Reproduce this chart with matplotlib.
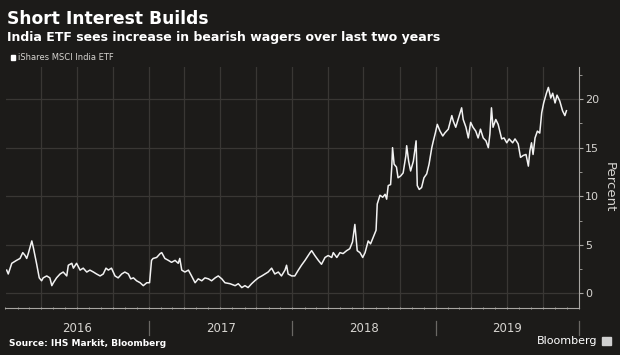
import numpy as np
import pandas as pd
import matplotlib.pyplot as plt
import matplotlib.dates as mdates
from matplotlib.patches import Rectangle

# short interest in iShares MSCI India ETF, %
dates_2016 = ["2016-01-04", "2016-01-08", "2016-01-17", "2016-01-29", "2016-02-07", "2016-02-14",
              "2016-02-20", "2016-02-24", "2016-02-28", "2016-03-08", "2016-03-12", "2016-03-20",
              "2016-03-27", "2016-04-02", "2016-04-06", "2016-04-15", "2016-04-23", "2016-04-28",
              "2016-05-02", "2016-05-10", "2016-05-19", "2016-05-27", "2016-06-05", "2016-06-09",
              "2016-06-18", "2016-06-22", "2016-06-30", "2016-07-09", "2016-07-17", "2016-07-26",
              "2016-08-03", "2016-08-12", "2016-08-20", "2016-08-29", "2016-09-06", "2016-09-13",
              "2016-09-19", "2016-09-27", "2016-10-06", "2016-10-14", "2016-10-23", "2016-10-31",
              "2016-11-09", "2016-11-15", "2016-11-22", "2016-11-30", "2016-12-09", "2016-12-17",
              "2016-12-26"]
si_2016 = [2.4, 2.0, 3.1, 3.4, 3.6, 4.2,
           3.9, 3.6, 4.1, 5.4, 4.7, 3.1,
           1.6, 1.3, 1.6, 1.8, 1.6, 0.8,
           1.1, 1.6, 2.0, 2.2, 1.8, 2.9,
           3.1, 2.6, 3.1, 2.4, 2.6, 2.2,
           2.4, 2.2, 2.0, 1.8, 2.0, 2.6,
           2.4, 2.6, 1.8, 1.6, 2.0, 2.2,
           2.0, 1.5, 1.6, 1.3, 1.1, 0.8,
           1.1]

dates_2017 = ["2017-01-02", "2017-01-07", "2017-01-11", "2017-01-20", "2017-01-29", "2017-02-02",
              "2017-02-10", "2017-02-19", "2017-02-27", "2017-03-08", "2017-03-16", "2017-03-20",
              "2017-03-25", "2017-04-02", "2017-04-11", "2017-04-19", "2017-04-28", "2017-05-06",
              "2017-05-15", "2017-05-23", "2017-06-01", "2017-06-09", "2017-06-18", "2017-06-26",
              "2017-07-05", "2017-07-13", "2017-07-26", "2017-08-08", "2017-08-16", "2017-08-25",
              "2017-09-02", "2017-09-10", "2017-09-19", "2017-09-27", "2017-10-06", "2017-10-15",
              "2017-10-23", "2017-10-31", "2017-11-09", "2017-11-17", "2017-11-26", "2017-12-04",
              "2017-12-13", "2017-12-17", "2017-12-21", "2017-12-30"]
si_2017 = [1.1, 3.4, 3.6, 3.7, 4.1, 4.2,
           3.6, 3.4, 3.2, 3.4, 3.1, 3.6,
           2.4, 2.2, 2.4, 1.8, 1.1, 1.5,
           1.3, 1.6, 1.5, 1.3, 1.6, 1.8,
           1.5, 1.1, 1.0, 0.8, 1.0, 0.6,
           0.8, 0.6, 1.0, 1.3, 1.6, 1.8,
           2.0, 2.2, 2.6, 2.0, 2.2, 1.8,
           2.4, 2.9, 2.0, 1.8]

dates_2018 = ["2018-01-07", "2018-01-16", "2018-01-24", "2018-02-02", "2018-02-10", "2018-02-15",
              "2018-02-19", "2018-02-27", "2018-03-08", "2018-03-16", "2018-03-25", "2018-04-02",
              "2018-04-11", "2018-04-15", "2018-04-24", "2018-05-02", "2018-05-10", "2018-05-19",
              "2018-05-27", "2018-06-03", "2018-06-09", "2018-06-15", "2018-06-22", "2018-06-29",
              "2018-07-05", "2018-07-13", "2018-07-19", "2018-07-26", "2018-08-02", "2018-08-05",
              "2018-08-12", "2018-08-19", "2018-08-25", "2018-08-29", "2018-09-02", "2018-09-08",
              "2018-09-11", "2018-09-13", "2018-09-17", "2018-09-23", "2018-09-27", "2018-10-04",
              "2018-10-10", "2018-10-17", "2018-10-19", "2018-10-24", "2018-10-29", "2018-11-05",
              "2018-11-12", "2018-11-15", "2018-11-20", "2018-11-26", "2018-12-02", "2018-12-09",
              "2018-12-15", "2018-12-22", "2018-12-26", "2018-12-31"]
si_2018 = [1.8, 2.4, 2.9, 3.4, 3.9, 4.2,
           4.4, 3.9, 3.4, 3.0, 3.7, 3.9,
           3.7, 4.2, 3.7, 4.2, 4.1, 4.4,
           4.6, 5.3, 7.1, 4.4, 4.2, 3.7,
           4.2, 5.4, 5.1, 5.8, 6.5, 9.2,
           10.1, 9.9, 10.2, 9.7, 11.1, 11.2,
           13.0, 15.0, 13.3, 13.0, 11.9, 12.1,
           12.4, 14.2, 15.2, 13.6, 12.6, 13.6,
           15.7, 11.1, 10.7, 10.9, 11.9, 12.3,
           13.3, 15.0, 15.7, 16.5]

dates_2019 = ["2019-01-05", "2019-01-12", "2019-01-19", "2019-01-24", "2019-02-02", "2019-02-11",
              "2019-02-15", "2019-02-21", "2019-02-27", "2019-03-08", "2019-03-12", "2019-03-19",
              "2019-03-25", "2019-03-31", "2019-04-06", "2019-04-13", "2019-04-19", "2019-04-25",
              "2019-05-02", "2019-05-09", "2019-05-15", "2019-05-19", "2019-05-23", "2019-05-27",
              "2019-06-03", "2019-06-09", "2019-06-18", "2019-06-24", "2019-07-01", "2019-07-07",
              "2019-07-16", "2019-07-22", "2019-07-30", "2019-08-05", "2019-08-12", "2019-08-19",
              "2019-08-25", "2019-08-29", "2019-09-02", "2019-09-06", "2019-09-11", "2019-09-17",
              "2019-09-23", "2019-09-28", "2019-10-03", "2019-10-10", "2019-10-15", "2019-10-21",
              "2019-10-26", "2019-11-01", "2019-11-06", "2019-11-13", "2019-11-20", "2019-11-26",
              "2019-11-30"]
si_2019 = [17.4, 16.7, 16.2, 16.5, 16.9, 18.3,
           17.7, 17.1, 17.9, 19.1, 17.9, 17.1,
           16.0, 17.6, 17.1, 16.7, 16.0, 16.9,
           16.0, 15.7, 15.0, 16.4, 19.1, 17.1,
           17.9, 17.4, 15.9, 16.0, 15.5, 15.9,
           15.5, 15.9, 15.4, 14.0, 14.2, 14.3,
           13.1, 14.7, 15.5, 14.3, 16.0, 16.7,
           16.5, 18.6, 19.6, 20.6, 21.2, 20.1,
           20.6, 19.6, 20.4, 19.8, 18.8, 18.3,
           18.8]

years = [2016, 2017, 2018, 2019]
y_ticks = [0, 5, 10, 15, 20]

dates = pd.to_datetime(dates_2016 + dates_2017 + dates_2018 + dates_2019)
si = np.array(si_2016 + si_2017 + si_2018 + si_2019)

bg = "#1c1b19"
grid_c = "#393734"
axis_c = "#a8a6a2"
text_c = "#d6d4d0"

fig = plt.figure(figsize=(6.2, 3.55), dpi=100, facecolor=bg)
ax = fig.add_axes([5.5 / 620, 47 / 355, (579 - 5.5) / 620, 241 / 355], facecolor=bg)

ax.plot(dates, si, color="#f2f2f2", lw=1.1, zorder=3)

ax.set_xlim(pd.Timestamp("2016-01-01"), pd.Timestamp("2020-01-01"))
ax.set_ylim(-1.5, 23.3)

# quarterly vertical grid
for q in pd.date_range("2016-04-01", "2019-12-31", freq="QS"):
    ax.axvline(q, color=grid_c, lw=0.9, zorder=1)
ax.set_yticks(y_ticks)
ax.set_yticks(np.arange(2.5, 23, 5), minor=True)
ax.yaxis.grid(True, which="major", color=grid_c, lw=0.9, zorder=1)

ax.yaxis.tick_right()
ax.yaxis.set_label_position("right")
ax.tick_params(axis="y", which="major", colors=axis_c, labelcolor=text_c, labelsize=8,
               length=3, width=0.8, pad=1.5)
ax.tick_params(axis="y", which="minor", colors=axis_c, length=2, width=0.6)
ax.set_ylabel("Percent", color=text_c, fontsize=9.5, rotation=270, labelpad=12)

# monthly ticks on the time axis
ax.xaxis.set_major_locator(mdates.MonthLocator())
ax.xaxis.set_major_formatter(plt.NullFormatter())
ax.tick_params(axis="x", which="major", colors=axis_c, length=2, width=0.6, direction="inout")

# year labels and separators below the axis
xform = ax.get_xaxis_transform()
for y in years:
    ax.text(pd.Timestamp(f"{y}-07-02"), -0.083, str(y), transform=xform,
            ha="center", va="center", color=text_c, fontsize=8.5)
    ax.plot([pd.Timestamp(f"{y + 1}-01-01")] * 2, [-0.054, -0.112], transform=xform,
            color="#6a6864", lw=0.9, clip_on=False)

for s in ["top", "left"]:
    ax.spines[s].set_visible(False)
ax.spines["right"].set_color(axis_c)
ax.spines["bottom"].set_color(axis_c)
ax.spines["right"].set_linewidth(0.8)
ax.spines["bottom"].set_linewidth(0.8)

fig.text(7 / 620, 1 - 19 / 355, "Short Interest Builds", color="white", fontsize=12.3,
         fontweight="bold", family="DejaVu Sans", va="center")
fig.text(7 / 620, 1 - 37 / 355, "India ETF sees increase in bearish wagers over last two years",
         color="white", fontsize=9, fontweight="bold", family="DejaVu Sans", va="center")
fig.patches.append(Rectangle((11 / 620, 1 - 60 / 355), 4 / 620, 5 / 355, transform=fig.transFigure,
                             color="white"))
fig.text(18 / 620, 1 - 57.5 / 355, "iShares MSCI India ETF", color=text_c, fontsize=6,
         va="center")
fig.text(9 / 620, 1 - 343 / 355, "Source: IHS Markit, Bloomberg", color="white", fontsize=6.5,
         fontweight="bold", va="center")
fig.text(597 / 620, 1 - 341 / 355, "Bloomberg", color="white", fontsize=8, ha="right",
         va="center")
fig.patches.append(Rectangle((602 / 620, 1 - 345 / 355), 9 / 620, 8 / 355, transform=fig.transFigure,
                             color="#d0d0d0"))

fig.savefig("out.png", dpi=100, facecolor=bg)
